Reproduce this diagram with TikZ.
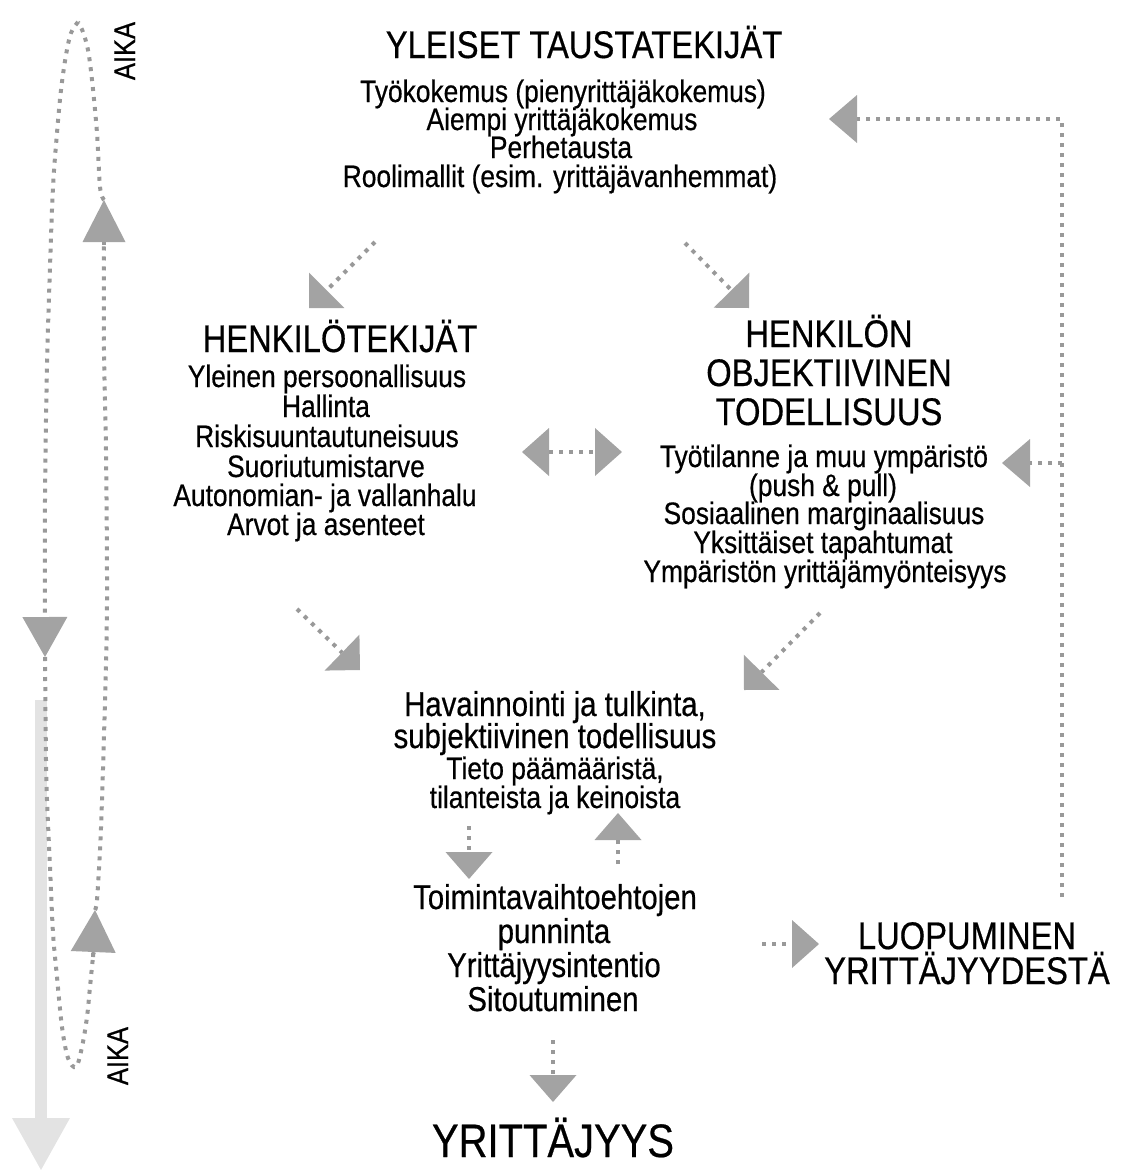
\documentclass[tikz,border=0pt]{standalone}
\usepackage{fontspec}
\setmainfont{Liberation Sans}[FakeStretch=0.85,FakeBold=0.5]
\usetikzlibrary{arrows.meta}
\definecolor{dotc}{gray}{0.6}
\definecolor{headc}{gray}{0.64}
\definecolor{bigc}{gray}{0.89}
\begin{document}
\begin{tikzpicture}[x=1pt,y=-1pt,
  ttl/.style={font=\fontsize{38.5}{39}\selectfont, anchor=base, inner sep=0pt},
  bd/.style={font=\fontsize{31}{29}\selectfont, anchor=base, inner sep=0pt},
  hvl/.style={font=\fontsize{34.5}{34}\selectfont, anchor=base, inner sep=0pt},
  hvs/.style={font=\fontsize{31}{31}\selectfont, anchor=base, inner sep=0pt},
  big/.style={font=\fontsize{47}{47}\selectfont, anchor=base, inner sep=0pt},
  aika/.style={font=\fontsize{30}{30}\selectfont, anchor=base, inner sep=0pt, rotate=90},
  dots/.style={draw=dotc, line width=4pt, dash pattern=on 4pt off 6pt},
  hd/.style 2 args={-{Triangle[length=#1,width=#2,line width=0pt,color=headc]}},
  dd/.style 2 args={{Triangle[length=#1,width=#2,line width=0pt,color=headc]}-{Triangle[length=#1,width=#2,line width=0pt,color=headc]}}
]
\useasboundingbox (0,0) rectangle (1121,1171);

% ---------- big light time arrow ----------
\coordinate (bigS) at (41,700);
\coordinate (bigE) at (41,1170);
\draw[bigc, line width=12pt, -{Triangle[length=52pt,width=58pt,line width=0pt,color=bigc]}] (bigS) -- (bigE);

% ---------- texts ----------
\node[ttl] (top) at (584,58) {YLEISET TAUSTATEKIJÄT};
\node[bd] (top1) at (563,102) {Työkokemus (pienyrittäjäkokemus)};
\node[bd] (top2) at (562,130) {Aiempi yrittäjäkokemus};
\node[bd] (top3) at (561,158) {Perhetausta};
\node[bd] (top4) at (560,187) {Roolimallit (esim. yrittäjävanhemmat)};

\node[ttl] (hen) at (340,352) {HENKILÖTEKIJÄT};
\node[bd] (hen1) at (327,387) {Yleinen persoonallisuus};
\node[bd] (hen2) at (326,417) {Hallinta};
\node[bd] (hen3) at (327,447) {Riskisuuntautuneisuus};
\node[bd] (hen4) at (326,477) {Suoriutumistarve};
\node[bd] (hen5) at (325,506) {Autonomian- ja vallanhalu};
\node[bd] (hen6) at (326,535) {Arvot ja asenteet};

\node[ttl] (obj1) at (829,347) {HENKILÖN};
\node[ttl] (obj2) at (829,386) {OBJEKTIIVINEN};
\node[ttl] (obj3) at (829,425) {TODELLISUUS};
\node[bd] (obj4) at (824,467) {Työtilanne ja muu ympäristö};
\node[bd] (obj5) at (823,496) {(push \& pull)};
\node[bd] (obj6) at (824,524) {Sosiaalinen marginaalisuus};
\node[bd] (obj7) at (823,553) {Yksittäiset tapahtumat};
\node[bd] (obj8) at (825,582) {Ympäristön yrittäjämyönteisyys};

\node[hvl] (hav1) at (555,716) {Havainnointi ja tulkinta,};
\node[hvl] (hav2) at (555,748) {subjektiivinen todellisuus};
\node[hvs] (hav3) at (555,779) {Tieto päämääristä,};
\node[hvs] (hav4) at (555,808) {tilanteista ja keinoista};

\node[hvl] (toi1) at (555,909) {Toimintavaihtoehtojen};
\node[hvl] (toi2) at (554,943) {punninta};
\node[hvl] (toi3) at (554,977) {Yrittäjyysintentio};
\node[hvl] (toi4) at (553,1011) {Sitoutuminen};

\node[big] (yri) at (553,1157) {YRITTÄJYYS};

\node[ttl] (luo1) at (967,949) {LUOPUMINEN};
\node[ttl] (luo2) at (967,984) {YRITTÄJYYDESTÄ};

\node[aika] (aika1) at (135,51) {AIKA};
\node[aika] (aika2) at (128,1056) {AIKA};

% ---------- connector points ----------
\coordinate (a1s) at (375,242);  \coordinate (a1e) at (309,308);
\coordinate (a2s) at (685,243);  \coordinate (a2e) at (749,308);
\coordinate (dbl1) at (522,452); \coordinate (dbl2) at (622,452);
\coordinate (rl0) at (1062,897); \coordinate (rl1) at (1062,119);
\coordinate (rl2) at (829,119);
\coordinate (rb0) at (1062,463); \coordinate (rb1) at (1002,463);
\coordinate (a5s) at (297,609);  \coordinate (a5e) at (360,670);
\coordinate (a6s) at (820,613);  \coordinate (a6e) at (744,690);
\coordinate (dns) at (469,826);  \coordinate (dne) at (469,879);
\coordinate (ups) at (618,864);  \coordinate (upe) at (618,813);
\coordinate (lus) at (762,944);  \coordinate (lue) at (819,944);
\coordinate (yrs) at (553,1040); \coordinate (yre) at (553,1102);

% ---------- connectors ----------
\draw[dots, hd={25pt}{50pt}] (a1s) -- (a1e);
\draw[dots, hd={25pt}{50pt}] (a2s) -- (a2e);
\draw[dots, dd={27pt}{48pt}] (dbl1) -- (dbl2);
\draw[dots, hd={28pt}{48pt}] (rl0) -- (rl1) -- (rl2);
\draw[dots, hd={28pt}{48pt}] (rb0) -- (rb1);
\draw[dots, hd={25pt}{50pt}] (a5s) -- (a5e);
\draw[dots, hd={25pt}{50pt}] (a6s) -- (a6e);
\draw[dots, hd={27pt}{47pt}] (dns) -- (dne);
\draw[dots, hd={27pt}{47pt}] (ups) -- (upe);
\draw[dots, hd={27pt}{48pt}] (lus) -- (lue);
\draw[dots, hd={27pt}{47pt}] (yrs) -- (yre);

% ---------- time loop ----------
\coordinate (apT) at (78,22);
\coordinate (dnT) at (45,657);
\coordinate (apB) at (76,1067);
\coordinate (upB) at (95,910);
\coordinate (upT) at (104,200);
\draw[dots, hd={40pt}{45pt}] plot[smooth, tension=0.55] coordinates {(78,22) (71,33) (66,55) (61,90) (57,133) (53,187) (50,267) (47,367) (45,500) (45,657)};
\draw[dots] plot[smooth, tension=0.55] coordinates {(45,657) (46,760) (47,800) (50,867) (53,933) (57,977) (62,1027) (68,1058) (76,1067) (82,1047) (87,1017) (90,987) (93,957) (94,952)};
\draw[dots, hd={42pt}{45pt}] (93,957) -- (upB);
\draw[dots] plot[smooth, tension=0.55] coordinates {(95,910) (97,900) (100,850) (102,800) (105,700) (107,600) (106,450) (104,350) (104,243)};
\draw[dots, hd={42pt}{43pt}] (104,245) -- (upT);
\draw[dots] plot[smooth, tension=0.55] coordinates {(104,200) (100,187) (97,133) (92,80) (88,50) (83,32) (78,22)};
\end{tikzpicture}
\end{document}
